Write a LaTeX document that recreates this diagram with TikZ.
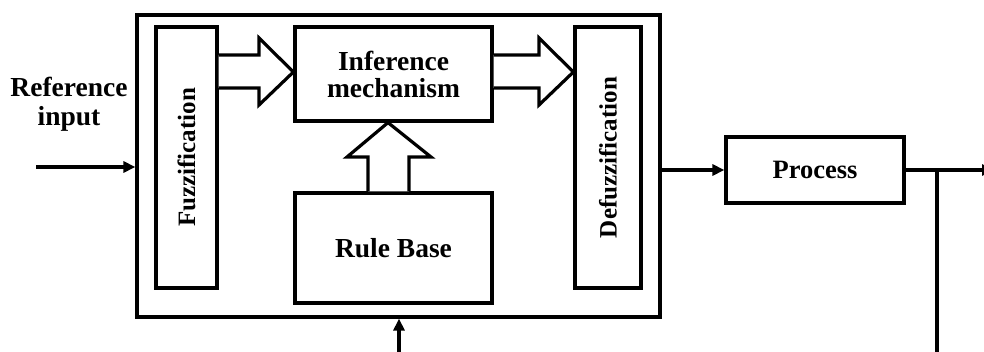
\documentclass[tikz,border=0pt]{standalone}
\usepackage{fontspec}
\setmainfont{Liberation Serif}
\usetikzlibrary{arrows.meta}
\begin{document}
\begin{tikzpicture}[x=1pt,y=-1pt,line width=3.2pt,
  blk/.style={draw,rectangle,inner sep=0pt},
  lbl/.style={font=\fontsize{25}{27}\selectfont\bfseries,align=center,inner sep=0pt},
  biglbl/.style={lbl,font=\fontsize{27.5}{29}\selectfont\bfseries},
  bigarrow/.style={draw,fill=white,line join=miter},
  sig/.style={-{Triangle[length=12pt,width=11pt]}}]
\useasboundingbox (0,0) rectangle (984,352);
\clip (0,0) rectangle (984,352);
% blocks
\node[blk,minimum width=523pt,minimum height=302pt] (outer) at (398.5,166) {};
\node[blk,minimum width=61pt,minimum height=261pt] (fuzz) at (186.5,157.5) {};
\node[lbl,rotate=90] (fuzzt) at (fuzz.center) {Fuzzification};
\node[blk,minimum width=66pt,minimum height=261pt] (defuzz) at (608,157.5) {};
\node[lbl,rotate=90] (defuzzt) at (defuzz.center) {Defuzzification};
\node[blk,lbl,font=\fontsize{27.5}{27}\selectfont\bfseries,minimum width=197pt,minimum height=94pt] (infer) at (393.5,74) {Inference\\mechanism};
\node[blk,biglbl,minimum width=197pt,minimum height=110pt] (rule) at (393.5,248) {Rule Base};
\node[blk,lbl,font=\fontsize{26.5}{28}\selectfont\bfseries,minimum width=178pt,minimum height=66pt] (process) at (815,170) {Process};
\node[biglbl] (ref) at (69,104.5) {Reference\\input};
% big hollow arrows
\draw[bigarrow] (fuzz.east |- 0,55) -- (259,55) -- (259,38) -- (infer.west |- 0,72)
  -- (259,105) -- (259,88) -- (fuzz.east |- 0,88);
\draw[bigarrow] (infer.east |- 0,55) -- (539,55) -- (539,38) -- (defuzz.west |- 0,72)
  -- (539,105) -- (539,88) -- (infer.east |- 0,88);
\draw[bigarrow] (rule.north -| 368,0) -- (368,157) -- (347,157) -- (infer.south -| 388,0)
  -- (431,157) -- (409,157) -- (rule.north -| 409,0);
% signals
\coordinate (in) at (36,167);
\draw[sig] (in) -- (outer.west |- in);
\draw[sig] (outer.east |- process.west) -- (process.west);
\coordinate (out) at (994,170);
\draw[sig] (process.east) -- (out);
\coordinate (br) at (937,170);
\coordinate (bot) at (937,360);
\draw (br) -- (bot);
\coordinate (fb) at (399,360);
\draw[sig] (fb) -- (outer.south -| fb);
\end{tikzpicture}
\end{document}
